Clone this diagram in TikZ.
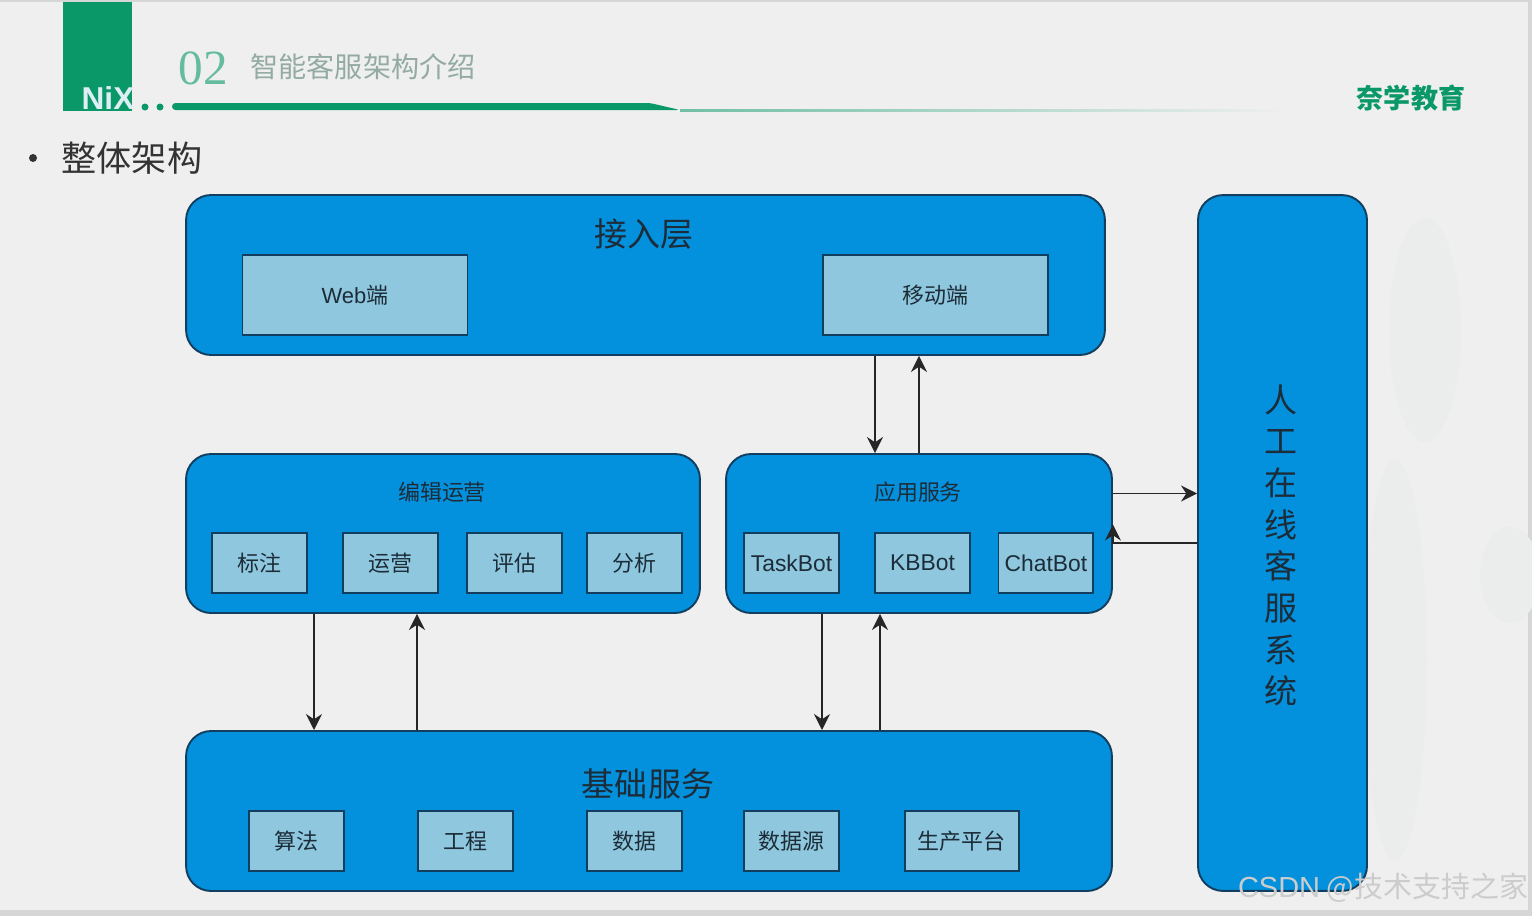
\documentclass[tikz,border=0pt]{standalone}
\usepackage{fontspec}
\setmainfont{Noto Sans CJK SC}
\newfontfamily\latinfont{Liberation Sans}
\newfontfamily\numfont{Liberation Serif}
\usetikzlibrary{arrows.meta}
\definecolor{pagebg}{HTML}{EFEFEF}
\definecolor{edgegray}{HTML}{D6D6D6}
\definecolor{blobgray}{HTML}{EAEDEB}
\definecolor{brandgreen}{HTML}{0A9868}
\definecolor{layerblue}{HTML}{0391DD}
\definecolor{itemblue}{HTML}{8FC8DE}
\definecolor{darkline}{HTML}{123F5F}
\definecolor{inktext}{HTML}{1C2C38}
\begin{document}
\begin{tikzpicture}[
    x=0.02cm, y=-0.02cm,
    layer/.style={rectangle, draw=darkline, line width=1.1pt, fill=layerblue, rounded corners=0.5cm, inner sep=0pt},
    item/.style={rectangle, draw=darkline, line width=1.1pt, fill=itemblue, inner sep=0pt, text=inktext},
    smallitem/.style={item, minimum width=1.9cm, minimum height=1.2cm, font=\fontsize{12.5pt}{14pt}\selectfont},
    bigitem/.style={item, minimum width=4.5cm, minimum height=1.6cm, font=\fontsize{12.5pt}{14pt}\selectfont},
    bigtitle/.style={text=inktext, inner sep=0pt, font=\fontsize{18.8pt}{23.7pt}\selectfont},
    smalltitle/.style={text=inktext, inner sep=0pt, font=\fontsize{12.5pt}{14pt}\selectfont},
    line/.style={draw, line width=1.1pt, black!85, -{Stealth[length=0.32cm,width=0.32cm]}}
  ]
    \useasboundingbox (0,0) rectangle (1532,916);

    % page and header
    \fill [pagebg] (0,0) rectangle (1532,916);
    \fill [edgegray] (0,0) rectangle (1532,2);
    \fill [edgegray] (0,910) rectangle (1532,916);
    \fill [edgegray] (1528,0) rectangle (1532,916);
    \fill [blobgray] (1425,330) ellipse [x radius=36, y radius=112];
    \fill [blobgray] (1395,660) ellipse [x radius=32, y radius=200];
    \fill [blobgray] (1510,575) ellipse [x radius=30, y radius=48];
    \fill [brandgreen] (63,2) rectangle (132,111);
    \fill [brandgreen] (145,107) circle [radius=3.5];
    \fill [brandgreen] (160,107) circle [radius=3.5];
    \fill [brandgreen, rounded corners=2pt] (172,103) -- (650,103) -- (680,110) -- (172,110) -- cycle;
    \shade [left color=brandgreen!55!pagebg, right color=pagebg] (680,109) rectangle (1285,111);
    \node [text=itemblue!30!white, inner sep=0pt, font=\latinfont\bfseries\fontsize{18pt}{20pt}\selectfont] (logo) at (108,98) {NiX};
    \node [text=brandgreen!60!pagebg, inner sep=0pt, font=\numfont\fontsize{28pt}{30pt}\selectfont] (secnum) at (203,68) {02};
    \node [text=brandgreen!25!gray!65!pagebg, inner sep=0pt, font=\fontsize{16pt}{18pt}\selectfont] (sectitle) at (363,67) {智能客服架构介绍};
    \node [text=brandgreen, inner sep=0pt, font=\bfseries\fontsize{15.4pt}{18pt}\selectfont] (brand) at (1411,98) {奈学教育};
    \fill [black!80] (33,158) circle [radius=4];
    \node [text=black!80, inner sep=0pt, font=\fontsize{20pt}{24pt}\selectfont] (overall) at (132,158) {整体架构};

    % layers
    \node [layer, minimum width=18.38cm, minimum height=3.2cm] (access) at (645.5,275) {};
    \node [layer, minimum width=10.28cm, minimum height=3.18cm] (editing) at (443,533.5) {};
    \node [layer, minimum width=7.72cm, minimum height=3.18cm] (appsvc) at (919,533.5) {};
    \node [layer, minimum width=18.52cm, minimum height=3.2cm] (basesvc) at (649,811) {};
    \node [layer, minimum width=3.38cm, minimum height=13.92cm] (human) at (1282.5,543) {};
    \node [bigtitle, align=center] (humantitle) at (1281.5,545.5) {人\\工\\在\\线\\客\\服\\系\\统};

    % access layer
    \node [bigtitle] (accesstitle) at (644,234) {接入层};
    \node [bigitem] (web) at (355,295) {{\latinfont Web}端};
    \node [bigitem, right of=web, xshift=10.62cm] (mobile) {移动端};

    % editing
    \node [smalltitle] (editingtitle) at (442,492) {编辑运营};
    \node [smallitem] (label) at (259.5,563) {标注};
    \node [smallitem, right of=label, xshift=1.62cm] (operate) {运营};
    \node [smallitem, right of=operate, xshift=1.48cm] (evaluate) {评估};
    \node [smallitem, right of=evaluate, xshift=1.4cm] (analyse) {分析};

    % app services
    \node [smalltitle] (appsvctitle) at (918,492) {应用服务};
    \node [smallitem, font=\latinfont\fontsize{13pt}{14pt}\selectfont] (taskbot) at (791.5,563) {TaskBot};
    \node [smallitem, right of=taskbot, xshift=1.62cm, font=\latinfont\fontsize{13pt}{14pt}\selectfont] (kbbot) {KBBot};
    \node [smallitem, right of=kbbot, xshift=1.47cm, font=\latinfont\fontsize{13pt}{14pt}\selectfont] (chatbot) {ChatBot};

    % base services
    \node [bigtitle] (basesvctitle) at (648,784) {基础服务};
    \node [smallitem] (algo) at (296.5,841) {算法};
    \node [smallitem, right of=algo, xshift=2.38cm] (engineering) {工程};
    \node [smallitem, right of=engineering, xshift=2.38cm] (data) {数据};
    \node [smallitem, right of=data, xshift=2.14cm] (datasource) {数据源};
    \node [smallitem, right of=datasource, xshift=2.41cm, minimum width=2.28cm] (platform) {生产平台};

    % connectors
    \path [line] ([xshift=-0.88cm]appsvc.north |- access.south) -- ([xshift=-0.88cm]appsvc.north);
    \path [line] (appsvc.north) -- (appsvc.north |- access.south);
    \path [line] ([xshift=-2.58cm]editing.south) -- ([xshift=-2.58cm]editing.south |- basesvc.north);
    \path [line] ([xshift=-0.52cm]editing.south |- basesvc.north) -- ([xshift=-0.52cm]editing.south);
    \path [line] ([xshift=-1.94cm]appsvc.south) -- ([xshift=-1.94cm]appsvc.south |- basesvc.north);
    \path [line] ([xshift=-0.78cm]appsvc.south |- basesvc.north) -- ([xshift=-0.78cm]appsvc.south);
    \path [line] ([yshift=0.8cm]appsvc.east) -- ([yshift=0.8cm]appsvc.east -| human.west);
    \path [line] (human.west) -| ([yshift=0.18cm]appsvc.east);

    % watermark
    \node [text=black!20, inner sep=0pt, font=\fontsize{16.5pt}{18pt}\selectfont] (mark) at (1383,888) {{\latinfont CSDN} @技术支持之家};
  \end{tikzpicture}
\end{document}
